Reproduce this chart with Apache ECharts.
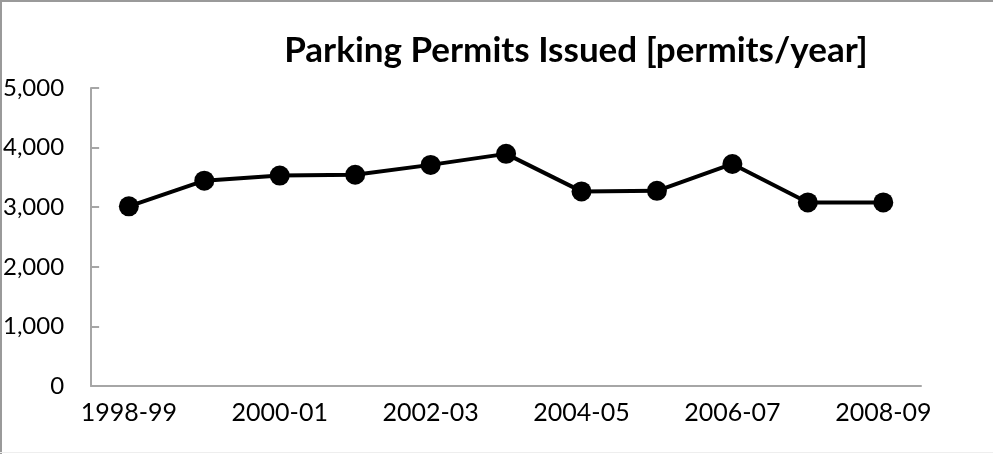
<!DOCTYPE html>
<html>
<head>
<meta charset="utf-8">
<script src="https://cdn.jsdelivr.net/npm/echarts@6/dist/echarts.min.js"></script>
<style>
  html, body { margin: 0; padding: 0; background: #fff; }
  #chart { width: 993px; height: 454px; }
</style>
</head>
<body>
<div id="chart"></div>
<script>
const years = ['1998-99', '1999-00', '2000-01', '2001-02', '2002-03', '2003-04',
  '2004-05', '2005-06', '2006-07', '2007-08', '2008-09']
const permits = [3015, 3445, 3530, 3545, 3710, 3895, 3265, 3275, 3725, 3080, 3080]
const yTicks = { min: 0, max: 5000, interval: 1000 }

const chart = echarts.init(document.getElementById('chart'))
const font = 'Lato'

chart.setOption({
  animation: false,
  title: {
    text: 'Parking Permits Issued [permits/year]',
    left: 571,
    top: 28,
    textAlign: 'center',
    textStyle: { fontFamily: font, fontWeight: 'bold', fontSize: 35, color: '#000' }
  },
  grid: { left: 90, right: 72, top: 88, bottom: 68, containLabel: false },
  xAxis: {
    type: 'category',
    data: years,
    boundaryGap: true,
    axisLine: { lineStyle: { color: '#a6a6a6', width: 2 } },
    axisTick: { show: false },
    axisLabel: { interval: 1, margin: 14, fontFamily: font, fontSize: 25, color: '#000' }
  },
  yAxis: {
    type: 'value',
    min: yTicks.min,
    max: yTicks.max,
    interval: yTicks.interval,
    axisLine: { show: true, lineStyle: { color: '#a6a6a6', width: 2 } },
    axisTick: { show: true, inside: true, length: 8, lineStyle: { color: '#a6a6a6', width: 2 } },
    splitLine: { show: false },
    axisLabel: {
      margin: 27,
      fontFamily: font,
      fontSize: 24,
      color: '#000',
      formatter: v => v.toLocaleString('en-US')
    }
  },
  series: [{
    type: 'line',
    data: permits,
    symbol: 'circle',
    symbolSize: 20,
    lineStyle: { color: '#000', width: 4 },
    itemStyle: { color: '#000' }
  }],
  graphic: [
    { type: 'rect', shape: { x: 0, y: 0, width: 993, height: 2 }, style: { fill: '#9a9a9a' } },
    { type: 'rect', shape: { x: 0, y: 0, width: 2, height: 454 }, style: { fill: '#9a9a9a' } },
    { type: 'rect', shape: { x: 0, y: 452, width: 993, height: 1 }, style: { fill: '#eeeeee' } }
  ]
})
</script>
</body>
</html>
